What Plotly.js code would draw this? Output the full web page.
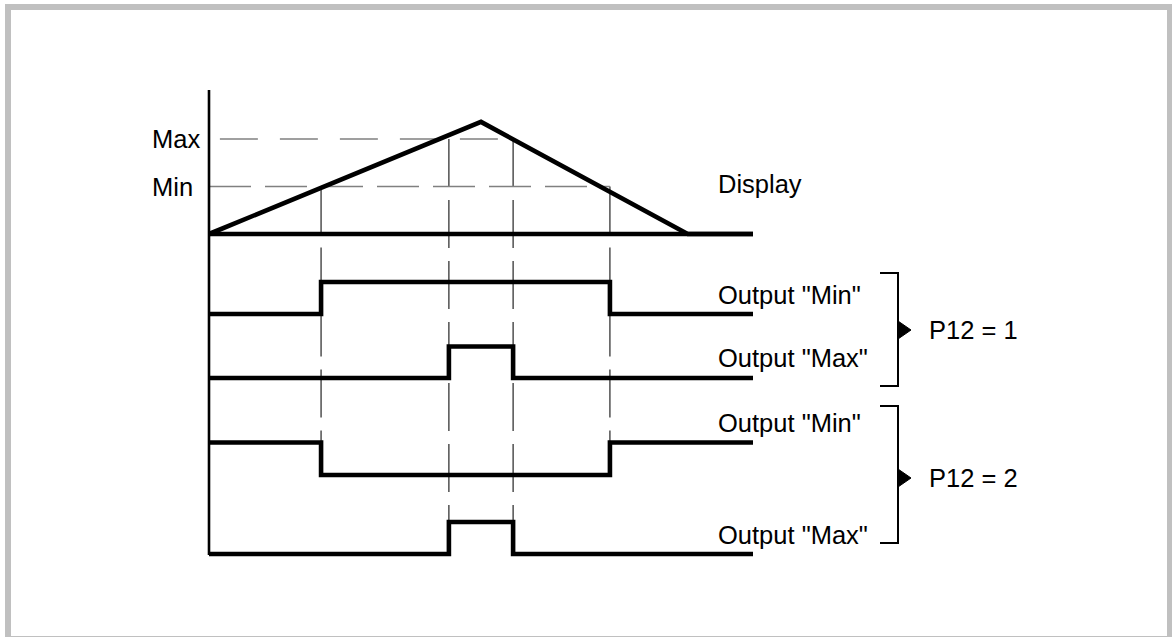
<!DOCTYPE html>
<html>
<head>
<meta charset="utf-8">
<script src="https://cdn.plot.ly/plotly-3.0.1.min.js"></script>
<style>
  html, body { margin: 0; padding: 0; background: #ffffff; }
  #chart { width: 1172px; height: 637px; }
</style>
</head>
<body>
<div id="chart"></div>
<script>
// ---------------- DATA ----------------
// time axis (arbitrary units, 0 = start, 100 = end of diagram)
const tEnd = 100;
// display (analog value) trace
const displayT = [0, 50, 88, 100];
const displayV = [0, 118, 0, 0];
// limit levels on the display scale
const levelNames = ["Min", "Max"];
const levelValues = [50, 100];
// switching instants
const tMinCross = [20.6, 73.7];   // display crosses Min (up, down)
const tMaxCross = [44.1, 55.9];   // display crosses Max (up, down)
// digital outputs (step signals, 0 = low, 1 = high)
const out1MinT = [0, 20.6, 73.7, 100];  const out1MinV = [0, 1, 0, 0];
const out1MaxT = [0, 44.1, 55.9, 100];  const out1MaxV = [0, 1, 0, 0];
const out2MinT = [0, 20.6, 73.7, 100];  const out2MinV = [1, 0, 1, 1];
const out2MaxT = [0, 44.1, 55.9, 100];  const out2MaxV = [0, 1, 0, 0];
const outputLabels = ['Output "Min"', 'Output "Max"', 'Output "Min"', 'Output "Max"'];
const groupLabels = ["P12 = 1", "P12 = 2"];
const displayLabel = "Display";

// ---------------- LAYOUT GEOMETRY ----------------
const W = 1172, H = 637;
const px = v => v / W;
const py = v => 1 - v / H;
const x0px = 209, x100px = 753;
const xs = (x100px - x0px) / tEnd;
const xRange = [-x0px / xs, (W - x0px) / xs];

// display subplot: baseline at 234px, 0.95 px per unit
const dispBase = 234, dispScale = 0.95, dispRange = [-20, 140];
const dispDomain = [py(dispBase - dispRange[0] * dispScale), py(dispBase - dispRange[1] * dispScale)];

// rows: [lowPx, highPx]
const rowsPx = [[314, 282], [378, 346.5], [475, 442.5], [554, 522]];
const rowRange = [-0.3, 1.3];
function rowDomain(r) {
  const u = r[0] - r[1];
  return [py(r[0] - rowRange[0] * u), py(r[0] - rowRange[1] * u)];
}

const thick = { color: "#000000", width: 4.6 };
const traces = [
  { x: [0, tEnd], y: [0, 0], yaxis: "y", mode: "lines", line: thick, hoverinfo: "skip" },
  { x: displayT, y: displayV, yaxis: "y", mode: "lines", line: thick, hoverinfo: "skip" },
  { x: out1MinT, y: out1MinV, yaxis: "y2", mode: "lines", line: Object.assign({ shape: "hv" }, thick), hoverinfo: "skip" },
  { x: out1MaxT, y: out1MaxV, yaxis: "y3", mode: "lines", line: Object.assign({ shape: "hv" }, thick), hoverinfo: "skip" },
  { x: out2MinT, y: out2MinV, yaxis: "y4", mode: "lines", line: Object.assign({ shape: "hv" }, thick), hoverinfo: "skip" },
  { x: out2MaxT, y: out2MaxV, yaxis: "y5", mode: "lines", line: Object.assign({ shape: "hv" }, thick), hoverinfo: "skip" }
];

const hidden = { visible: false, showgrid: false, zeroline: false, fixedrange: true };
const font = { family: "Liberation Sans, Arial, sans-serif", size: 25.5, color: "#000000" };

const shapes = [];
// outer frame
shapes.push({ type: "rect", xref: "paper", yref: "paper", x0: px(8), x1: px(1170), y0: py(7), y1: py(639),
  line: { color: "#c0c0c0", width: 6 }, fillcolor: "rgba(0,0,0,0)", layer: "below" });
// vertical axis
shapes.push({ type: "line", xref: "x", yref: "paper", x0: 0, x1: 0, y0: py(90), y1: py(555),
  line: { color: "#000000", width: 2.6 } });
// horizontal limit lines (dashed grey)
shapes.push({ type: "line", xref: "x", yref: "y", x0: 0, x1: tMinCross[1], y0: levelValues[0], y1: levelValues[0],
  line: { color: "#808080", width: 1.3, dash: "42px,14px" }, layer: "below" });
shapes.push({ type: "line", xref: "x", yref: "y", x0: 2, x1: tMaxCross[1], y0: levelValues[1], y1: levelValues[1],
  line: { color: "#808080", width: 1.3, dash: "38px,22px" }, layer: "below" });
// vertical switching lines
tMinCross.forEach(t => shapes.push({ type: "line", xref: "x", yref: "paper", x0: t, x1: t,
  y0: py(dispBase - levelValues[0] * dispScale), y1: py(rowsPx[2][1]),
  line: { color: "#111111", width: 1.1, dash: "48px,13px" }, layer: "below" }));
tMaxCross.forEach(t => shapes.push({ type: "line", xref: "x", yref: "paper", x0: t, x1: t,
  y0: py(dispBase - levelValues[1] * dispScale), y1: py(rowsPx[3][1]),
  line: { color: "#111111", width: 1.1, dash: "48px,13px" }, layer: "below" }));
// brackets
function bracket(top, bot, mid) {
  shapes.push({ type: "path", xref: "paper", yref: "paper",
    path: `M ${px(880)},${py(top)} L ${px(898)},${py(top)} L ${px(898)},${py(bot)} L ${px(880)},${py(bot)}`,
    line: { color: "#000000", width: 2 } });
  shapes.push({ type: "path", xref: "paper", yref: "paper",
    path: `M ${px(898)},${py(mid - 9)} L ${px(911)},${py(mid)} L ${px(898)},${py(mid + 9)} Z`,
    line: { color: "#000000", width: 1 }, fillcolor: "#000000" });
}
bracket(273, 386, 330);
bracket(406, 543, 478);

const annotations = [];
levelNames.forEach((n, i) => annotations.push({ text: n, xref: "paper", x: px(150), xanchor: "left",
  yref: "y", y: levelValues[i], yanchor: "middle", yshift: 0, showarrow: false, font }));
annotations.push({ text: displayLabel, xref: "paper", x: px(716), xanchor: "left",
  yref: "paper", y: py(184), yanchor: "middle", showarrow: false, font });
const outLabelY = [295, 358, 423, 535];
outputLabels.forEach((t, i) => annotations.push({ text: t, xref: "paper", x: px(716), xanchor: "left",
  yref: "paper", y: py(outLabelY[i]), yanchor: "middle", showarrow: false, font }));
const groupY = [330, 478];
groupLabels.forEach((t, i) => annotations.push({ text: t, xref: "paper", x: px(927), xanchor: "left",
  yref: "paper", y: py(groupY[i]), yanchor: "middle", showarrow: false, font }));

const layout = {
  width: W, height: H,
  margin: { l: 0, r: 0, t: 0, b: 0, pad: 0 },
  paper_bgcolor: "#ffffff", plot_bgcolor: "rgba(0,0,0,0)",
  showlegend: false,
  xaxis: Object.assign({ range: xRange, domain: [0, 1] }, hidden),
  yaxis: Object.assign({ range: dispRange, domain: dispDomain }, hidden),
  yaxis2: Object.assign({ range: rowRange, domain: rowDomain(rowsPx[0]) }, hidden),
  yaxis3: Object.assign({ range: rowRange, domain: rowDomain(rowsPx[1]) }, hidden),
  yaxis4: Object.assign({ range: rowRange, domain: rowDomain(rowsPx[2]) }, hidden),
  yaxis5: Object.assign({ range: rowRange, domain: rowDomain(rowsPx[3]) }, hidden),
  shapes, annotations
};

Plotly.newPlot("chart", traces, layout, { displayModeBar: false, staticPlot: true });
</script>
</body>
</html>
